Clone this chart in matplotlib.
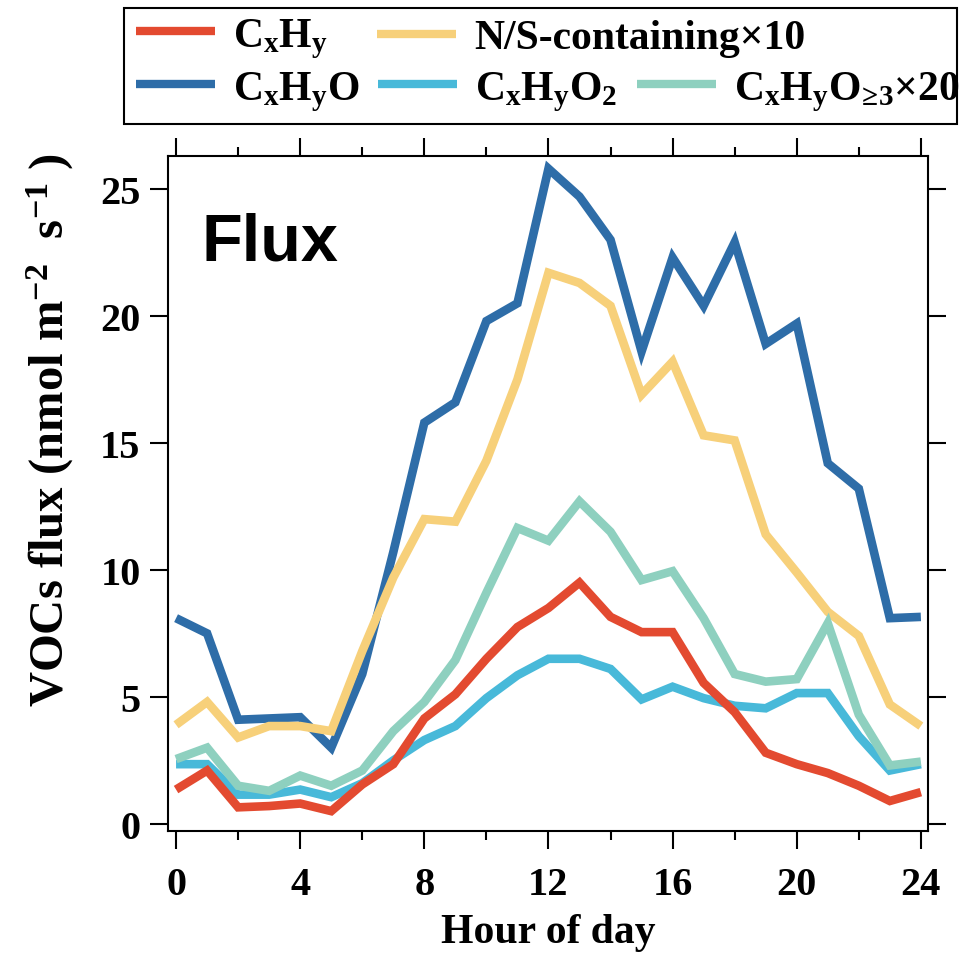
import matplotlib
matplotlib.use("Agg")
import matplotlib.pyplot as plt
from matplotlib.lines import Line2D
from matplotlib.patches import Rectangle
from matplotlib.ticker import MultipleLocator

# data (hour of day vs flux)
hours = list(range(25))
cxhy = [1.35, 2.1, 0.65, 0.7, 0.8, 0.5, 1.55, 2.35, 4.15, 5.1, 6.5, 7.75, 8.5,
        9.5, 8.15, 7.55, 7.55, 5.55, 4.4, 2.8, 2.35, 2.0, 1.5, 0.9, 1.25]
cxhyo = [8.1, 7.5, 4.1, 4.15, 4.2, 3.0, 5.9, 10.7, 15.8, 16.6, 19.8, 20.5, 25.8,
         24.7, 23.0, 18.6, 22.3, 20.4, 22.9, 18.9, 19.7, 14.2, 13.2, 8.1, 8.15]
ns_x10 = [3.9, 4.8, 3.4, 3.85, 3.85, 3.65, 6.8, 9.7, 12.0, 11.9, 14.3, 17.5, 21.7,
          21.3, 20.4, 16.9, 18.2, 15.3, 15.1, 11.4, 9.9, 8.35, 7.4, 4.7, 3.85]
cxhyo2 = [2.35, 2.35, 1.15, 1.15, 1.35, 1.05, 1.6, 2.5, 3.3, 3.85, 4.95, 5.85, 6.5,
          6.5, 6.1, 4.9, 5.4, 4.95, 4.65, 4.55, 5.15, 5.15, 3.45, 2.1, 2.35]
cxhyo3_x20 = [2.55, 3.0, 1.5, 1.3, 1.9, 1.5, 2.1, 3.65, 4.8, 6.45, 9.1, 11.65, 11.15,
              12.7, 11.5, 9.6, 9.95, 8.1, 5.9, 5.6, 5.7, 7.9, 4.3, 2.3, 2.45]

labels = {
    "cxhy": r"$\mathrm{C_xH_y}$",
    "ns": "N/S-containing×10",
    "cxhyo": r"$\mathrm{C_xH_yO}$",
    "cxhyo2": r"$\mathrm{C_xH_yO_2}$",
    "cxhyo3": r"$\mathrm{C_xH_yO_{\!\geq\!3}}$×20",
}
colors = {
    "cxhy": "#e34a30",
    "ns": "#f7d07a",
    "cxhyo": "#2e6da8",
    "cxhyo2": "#48b9d9",
    "cxhyo3": "#8ed0bf",
}

plt.rcParams["font.family"] = "Liberation Serif"
plt.rcParams["font.weight"] = "bold"
plt.rcParams["mathtext.fontset"] = "custom"
plt.rcParams["mathtext.rm"] = "Liberation Serif:bold"
plt.rcParams["mathtext.bf"] = "Liberation Serif:bold"
plt.rcParams["mathtext.it"] = "Liberation Serif:bold"
plt.rcParams["mathtext.default"] = "rm"

W, H = 959, 954
fig = plt.figure(figsize=(W / 100, H / 100), dpi=100)
ax = fig.add_axes([0.1755, 0.1274, 0.7925, 0.7083])

line_kw = dict(lw=6.2, solid_joinstyle="miter", solid_capstyle="butt")
ax.plot(hours, cxhyo, color=colors["cxhyo"], **line_kw)
ax.plot(hours, ns_x10, color=colors["ns"], **line_kw)
ax.plot(hours, cxhyo2, color=colors["cxhyo2"], **line_kw)
ax.plot(hours, cxhyo3_x20, color=colors["cxhyo3"], **line_kw)
ax.plot(hours, cxhy, color=colors["cxhy"], **line_kw)

ax.set_xlim(-0.25, 24.24)
ax.set_ylim(-0.3, 26.31)
ax.set_xticks(range(0, 25, 4))
ax.xaxis.set_minor_locator(MultipleLocator(2))
ax.set_yticks(range(0, 26, 5))
ax.tick_params(which="both", direction="out", top=True, right=True, width=1.5,
               labelsize=29, pad=7)
ax.tick_params(axis="x", which="major", pad=12)
ax.tick_params(which="major", length=13)
ax.tick_params(which="minor", length=6.8)
for s in ax.spines.values():
    s.set_linewidth(1.5)

ax.set_xlabel("Hour of day", fontsize=30, fontweight="bold", labelpad=7)
ax.set_ylabel(r"VOCs flux (nmol m$^{-2}$  s$^{-1}$ )", fontsize=35,
              fontweight="bold", va="center")
ax.yaxis.set_label_coords(-0.155, 0.596)

ax.text(0.044, 0.847, "Flux", transform=ax.transAxes, fontsize=48,
        fontweight="bold", family="Liberation Sans", va="baseline")

# legend: one small legend per entry so the rows line up like the original
legend_slots = [("cxhy", 136, 39), ("ns", 377, 39),
                ("cxhyo", 136, 92), ("cxhyo2", 378, 92), ("cxhyo3", 637, 92)]
for key, xp, yp in legend_slots:
    h = Line2D([], [], color=colors[key], lw=6, solid_capstyle="butt")
    fig.legend([h], [labels[key]], loc="center left",
               bbox_to_anchor=(xp / W, 1 - yp / H), frameon=False,
               borderpad=0, borderaxespad=0, handlelength=1.9,
               handletextpad=0.43,
               prop={"family": "Liberation Serif", "weight": "bold", "size": 30})

fig.add_artist(Rectangle((124 / W, 1 - 125 / H), (957 - 124) / W, (125 - 9) / H,
                         transform=fig.transFigure, fill=False, lw=1.5,
                         edgecolor="black"))

fig.savefig("out.png", dpi=100)
